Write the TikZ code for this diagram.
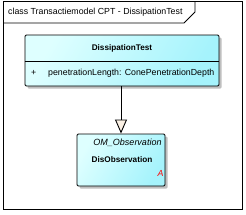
\documentclass[tikz,border=0pt]{standalone}
\usepackage{fontspec}
\setmainfont{Liberation Sans}
\usetikzlibrary{arrows.meta,shadows}
\definecolor{boxlight}{RGB}{222,255,255}
\definecolor{boxdark}{RGB}{165,243,252}
\definecolor{tipfill}{RGB}{250,240,228}
\tikzset{
  umlbox/.style={draw=black, line width=0.9pt, rounded corners=1.2pt,
    left color=boxlight, right color=boxdark, shading angle=60,
    drop shadow={shadow xshift=2.5pt, shadow yshift=-2.5pt, fill=black!25, opacity=1},
    inner sep=0pt},
  lbl/.style={inner sep=0pt, font=\fontsize{8.8}{10}\selectfont},
  gen/.style={line width=0.9pt, -{Triangle[open, width=12pt, length=14pt, fill=tipfill]}}
}
\begin{document}
\begin{tikzpicture}[x=1pt,y=-1pt]
\useasboundingbox (0,0) rectangle (246,214);
\fill[white] (0,0) rectangle (246,214);
% frame
\draw[line width=0.9pt] (3,1) rectangle (242,209);
\draw[line width=0.9pt] (3,23) -- (184,23) -- (195,12) -- (195,1);
\node[lbl, anchor=west] (title) at (8,12.5) {class Transactiemodel CPT - DissipationTest};
% class box
\node[umlbox, minimum width=194pt, minimum height=51pt] (dt) at (122,60.5) {};
\draw[line width=0.6pt] (dt.west |- 0,61) -- (dt.east |- 0,61);
\node[lbl, font=\fontsize{8.2}{9}\selectfont\bfseries] (dtname) at (122,48) {DissipationTest};
\node[lbl, anchor=west] (plus) at (31,73) {+};
\node[lbl, anchor=west] (attr) at (48,73) {penetrationLength: ConePenetrationDepth};
% observation box
\node[umlbox, minimum width=88pt, minimum height=52pt] (obs) at (121,160) {};
\node[lbl, font=\fontsize{9}{10}\selectfont\itshape] (stereo) at (127.5,143) {OM\_Observation};
\node[lbl, font=\fontsize{8.2}{9}\selectfont\bfseries] (obsname) at (122,160) {DisObservation};
\node[lbl, font=\fontsize{8.8}{10}\selectfont\itshape, text=red] (abs) at (160.5,173) {A};
% generalization
\draw[gen] (obs.north |- dt.south) -- (obs.north);
\end{tikzpicture}
\end{document}
